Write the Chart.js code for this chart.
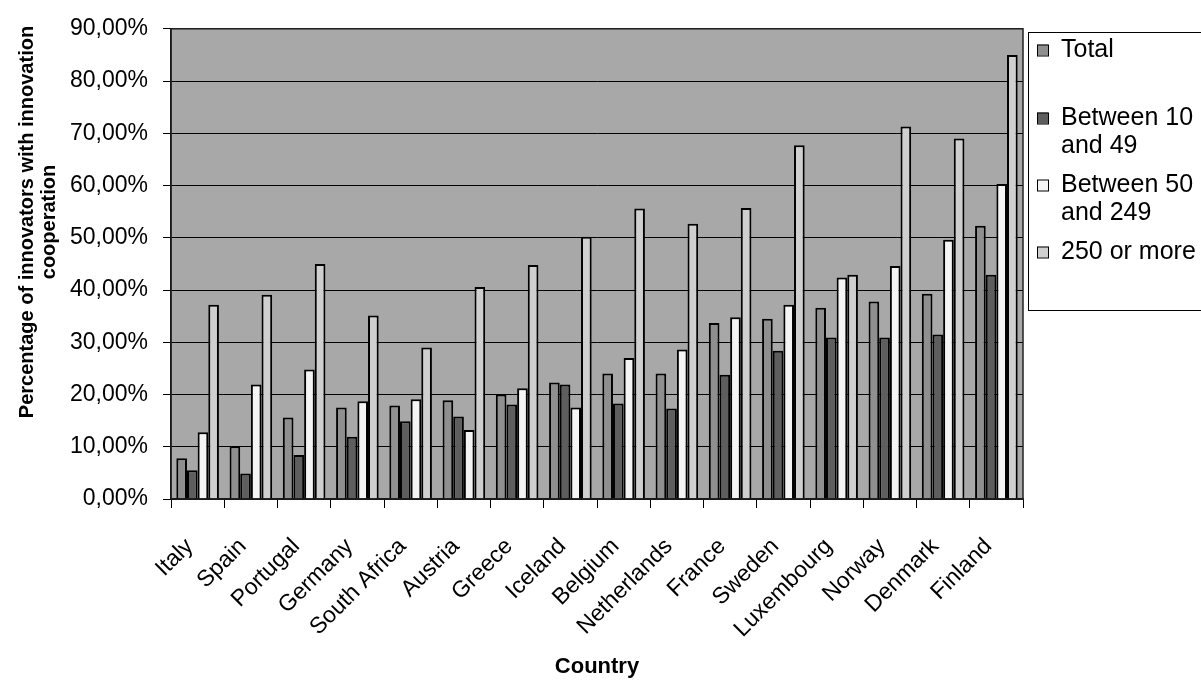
<!DOCTYPE html>
<html>
<head>
<meta charset="utf-8">
<script src="https://cdn.jsdelivr.net/npm/chart.js@4/dist/chart.umd.min.js"></script>
<style>
  html, body { margin: 0; padding: 0; background: #fff; }
  canvas { display: block; }
</style>
</head>
<body>
<canvas id="chart" width="1201" height="686"></canvas>
<script>
// Data (percent)
const countries = ["Italy", "Spain", "Portugal", "Germany", "South Africa", "Austria", "Greece", "Iceland",
  "Belgium", "Netherlands", "France", "Sweden", "Luxembourg", "Norway", "Denmark", "Finland"];
const totalValues = [7.8, 10.1, 15.6, 17.5, 17.9, 18.9, 20.0, 22.3, 24.0, 24.0, 33.7, 34.5, 36.6, 37.8, 39.3, 52.3];
const small = [5.5, 4.9, 8.4, 11.9, 14.9, 15.8, 18.1, 21.9, 18.3, 17.3, 23.8, 28.4, 30.9, 30.9, 31.5, 42.9];
const medium = [12.8, 21.9, 24.8, 18.7, 19.1, 13.2, 21.2, 17.5, 27.0, 28.6, 34.8, 37.2, 42.4, 44.6, 49.6, 60.3];
const large = [37.2, 39.1, 45.0, 35.1, 29.0, 40.6, 44.8, 50.2, 55.6, 52.7, 55.7, 67.7, 42.9, 71.3, 69.0, 85.0];
const seriesNames = ["Total", "Between 10 and 49", "Between 50 and 249", "250 or more"];
const legendLines = [["Total"], ["Between 10", "and 49"], ["Between 50", "and 249"], ["250 or more"]];
const seriesColors = ["#8f8f8f", "#5e5e5e", "#f4f4f4", "#cfcfcf"];
const yTitle = ["Percentage of innovators with innovation", "cooperation"];

// Plot background + frame
const plotBackground = {
  id: "plotBackground",
  beforeDraw(chart) {
    const { ctx, chartArea: a } = chart;
    ctx.save();
    ctx.fillStyle = "#fff";
    ctx.fillRect(0, 0, chart.width, chart.height);
    ctx.fillStyle = "#a8a8a8";
    ctx.fillRect(a.left, a.top, a.right - a.left, a.bottom - a.top);
    ctx.restore();
  },
  afterDraw(chart) {
    const { ctx, chartArea: a } = chart;
    ctx.save();
    ctx.strokeStyle = "#222";
    ctx.lineWidth = 1.5;
    ctx.strokeRect(a.left, a.top, a.right - a.left, a.bottom - a.top);
    ctx.restore();
  }
};

// Rotated y-axis title, centred like the original
const yAxisTitle = {
  id: "yAxisTitle",
  afterDraw(chart) {
    const ctx = chart.ctx;
    ctx.save();
    ctx.font = "bold 20px 'Liberation Sans', Arial, sans-serif";
    ctx.fillStyle = "#000";
    ctx.textAlign = "center";
    ctx.textBaseline = "alphabetic";
    const xs = [33, 55];
    yTitle.forEach((t, i) => {
      ctx.save();
      ctx.translate(xs[i], 222);
      ctx.rotate(-Math.PI / 2);
      ctx.fillText(t, 0, 0);
      ctx.restore();
    });
    ctx.restore();
  }
};

// Boxed legend on the right
const boxLegend = {
  id: "boxLegend",
  afterDraw(chart) {
    const ctx = chart.ctx;
    ctx.save();
    ctx.strokeStyle = "#000";
    ctx.lineWidth = 1;
    ctx.strokeRect(1028.5, 32.5, 200, 278);
    ctx.font = "25px 'Liberation Sans', Arial, sans-serif";
    ctx.textBaseline = "middle";
    ctx.textAlign = "left";
    const rows = [50, 118, 185, 252];
    legendLines.forEach((lines, i) => {
      const y = rows[i];
      ctx.fillStyle = chart.data.datasets[i].backgroundColor;
      ctx.fillRect(1037, y - 5.5, 11, 11);
      ctx.strokeStyle = "#000";
      ctx.lineWidth = 1;
      ctx.strokeRect(1037.5, y - 5, 11, 11);
      ctx.fillStyle = "#000";
      lines.forEach((l, j) => ctx.fillText(l, 1061, y + j * 28));
    });
    ctx.restore();
  }
};

const datasetValues = [totalValues, small, medium, large];

new Chart(document.getElementById("chart"), {
  type: "bar",
  data: {
    labels: countries,
    datasets: datasetValues.map((vals, i) => ({
      label: seriesNames[i],
      data: vals,
      backgroundColor: seriesColors[i],
      borderColor: "#000",
      borderWidth: 2,
      borderSkipped: "bottom",
      categoryPercentage: 0.8,
      barPercentage: 1.0
    }))
  },
  options: {
    responsive: false,
    animation: false,
    layout: { padding: { top: 28, right: 178, bottom: 0, left: 0 } },
    plugins: {
      legend: { display: false },
      tooltip: { enabled: false }
    },
    scales: {
      x: {
        grid: { offset: true, drawOnChartArea: false, color: "#000", tickLength: 9 },
        border: { color: "#000", width: 1.5 },
        ticks: {
          color: "#000",
          font: { family: "'Liberation Sans', Arial, sans-serif", size: 23 },
          minRotation: 45,
          maxRotation: 45,
          autoSkip: false,
          padding: 25,
          labelOffset: -8
        },
        title: {
          display: true,
          text: "Country",
          color: "#000",
          font: { family: "'Liberation Sans', Arial, sans-serif", size: 22, weight: "bold" },
          padding: { top: 0, bottom: 6 }
        },
        afterFit(scale) { scale.height = 187; }
      },
      y: {
        min: 0,
        max: 90,
        grid: { color: "#000", lineWidth: 1, tickLength: 8 },
        border: { color: "#000", width: 1.5 },
        ticks: {
          stepSize: 10,
          color: "#000",
          padding: 15,
          font: { family: "'Liberation Sans', Arial, sans-serif", size: 23 },
          callback: (v) => v.toFixed(2).replace(".", ",") + "%"
        },
        afterFit(scale) { scale.width = 171; }
      }
    }
  },
  plugins: [plotBackground, yAxisTitle, boxLegend]
});
</script>
</body>
</html>
